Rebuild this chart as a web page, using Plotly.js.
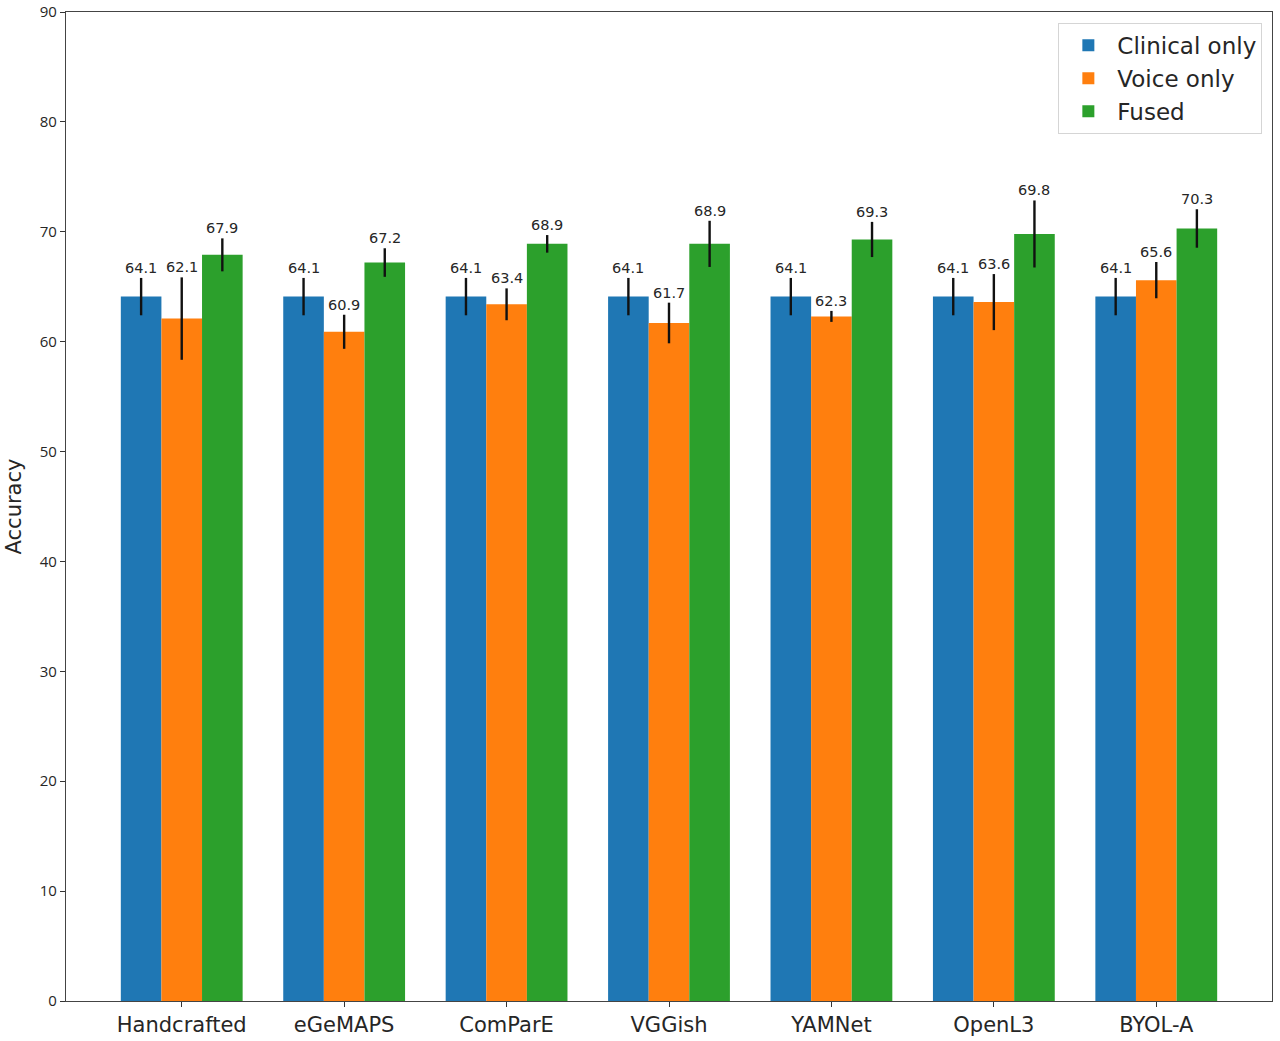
<!DOCTYPE html>
<html>
<head>
<meta charset="utf-8">
<script src="https://cdn.plot.ly/plotly-3.0.1.min.js"></script>
<style>
  html, body { margin: 0; padding: 0; background: #fff; }
  #plotter { width: 1280px; height: 1041px; }
</style>
</head>
<body>
<div id="plotter"></div>
<script>
var categories = ["Handcrafted", "eGeMAPS", "ComParE", "VGGish", "YAMNet", "OpenL3", "BYOL-A"];
var seriesNames = ["Clinical only", "Voice only", "Fused"];

var clinical = [64.1, 64.1, 64.1, 64.1, 64.1, 64.1, 64.1];
var clinicalErr = [1.7, 1.7, 1.7, 1.7, 1.7, 1.7, 1.7];
var voice = [62.1, 60.9, 63.4, 61.7, 62.3, 63.6, 65.6];
var voiceErr = [3.75, 1.55, 1.45, 1.85, 0.5, 2.55, 1.65];
var fused = [67.9, 67.2, 68.9, 68.9, 69.3, 69.8, 70.3];
var fusedErr = [1.5, 1.3, 0.8, 2.1, 1.6, 3.05, 1.75];

var colors = ["#1f77b4", "#ff7f0e", "#2ca02c"];
var barWidth = 0.25;

var values = [clinical, voice, fused];
var errors = [clinicalErr, voiceErr, fusedErr];

var data = [];
var annotations = [];

for (var s = 0; s < 3; s++) {
    var offset = (s - 1) * barWidth;
    var xs = categories.map(function (c, i) { return i + offset; });
    data.push({
        type: 'bar',
        name: seriesNames[s],
        x: xs,
        y: values[s],
        width: barWidth,
        marker: { color: colors[s], line: { width: 0 } },
        error_y: {
            type: 'data',
            array: errors[s],
            visible: true,
            color: '#111',
            thickness: 2.4,
            width: 0
        },
        hoverinfo: 'y'
    });
    // value label sits just above the error bar, like bar_label does
    for (var i = 0; i < categories.length; i++) {
        annotations.push({
            x: xs[i],
            y: values[s][i] + errors[s][i],
            xref: 'x',
            yref: 'y',
            text: values[s][i].toFixed(1),
            showarrow: false,
            yanchor: 'bottom',
            yshift: 0,
            font: { family: 'DejaVu Sans, sans-serif', size: 14.5, color: '#262626' }
        });
    }
}

var layout = {
    width: 1280,
    height: 1041,
    margin: { l: 66, r: 8, t: 12, b: 40 },
    paper_bgcolor: '#fff',
    plot_bgcolor: '#fff',
    barmode: 'overlay',
    showlegend: true,
    annotations: annotations,
    xaxis: {
        range: [-0.7125, 6.7125],
        tickmode: 'array',
        tickvals: categories.map(function (c, i) { return i; }),
        ticktext: categories,
        ticks: 'outside',
        ticklen: 5,
        tickcolor: '#333',
        showgrid: false,
        zeroline: false,
        showline: true,
        linecolor: '#444',
        linewidth: 1.2,
        mirror: true,
        tickfont: { family: 'DejaVu Sans, sans-serif', size: 21, color: '#262626' }
    },
    yaxis: {
        range: [0, 90],
        tickmode: 'linear',
        tick0: 0,
        dtick: 10,
        ticks: 'outside',
        ticklen: 5,
        tickcolor: '#333',
        ticklabeloverflow: 'allow',
        showgrid: false,
        zeroline: false,
        showline: true,
        linecolor: '#444',
        linewidth: 1.2,
        mirror: true,
        tickfont: { family: 'Open Sans, sans-serif', size: 15, color: '#262626' },
        title: {
            text: 'Accuracy',
            standoff: 12,
            font: { family: 'DejaVu Sans, sans-serif', size: 21, color: '#262626' }
        }
    },
    legend: {
        x: 0.992,
        y: 0.989,
        xanchor: 'right',
        yanchor: 'top',
        bgcolor: 'rgba(255,255,255,0.8)',
        bordercolor: '#d5d5d5',
        borderwidth: 1,
        itemwidth: 48,
        font: { family: 'DejaVu Sans, sans-serif', size: 23, color: '#262626' }
    }
};

Plotly.newPlot('plotter', data, layout, { displayModeBar: false, staticPlot: true });
</script>
</body>
</html>
